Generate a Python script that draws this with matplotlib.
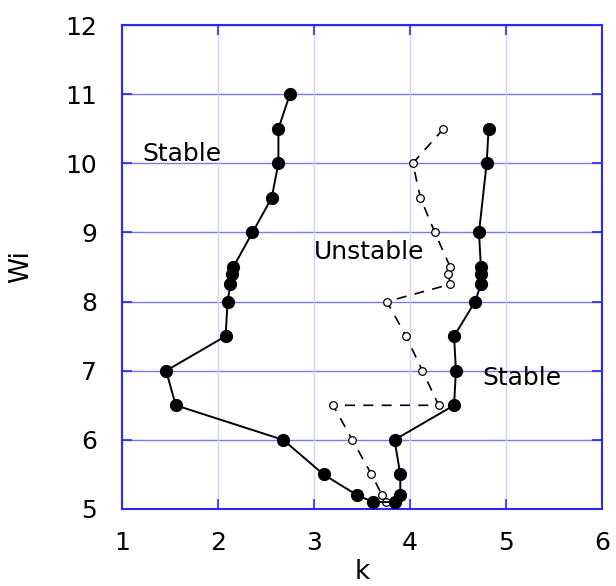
import matplotlib
matplotlib.use('Agg')
import matplotlib.pyplot as plt

# filled series (solid line)
k_stable = [2.75, 2.63, 2.63, 2.56, 2.36, 2.16, 2.15, 2.13, 2.10, 2.08, 1.46, 1.56, 2.68, 3.10, 3.45, 3.62,
            3.85, 3.90, 3.90, 3.84, 4.46, 4.48, 4.46, 4.68, 4.74, 4.74, 4.74, 4.72, 4.80, 4.82]
wi_stable = [11.0, 10.5, 10.0, 9.5, 9.0, 8.5, 8.4, 8.25, 8.0, 7.5, 7.0, 6.5, 6.0, 5.5, 5.2, 5.1,
             5.1, 5.2, 5.5, 6.0, 6.5, 7.0, 7.5, 8.0, 8.25, 8.4, 8.5, 9.0, 10.0, 10.5]

# open series (dashed line)
k_unstable = [4.35, 4.03, 4.11, 4.26, 4.42, 4.40, 4.42, 3.76, 3.96, 4.13, 4.30, 3.20, 3.40, 3.60, 3.71, 3.75]
wi_unstable = [10.5, 10.0, 9.5, 9.0, 8.5, 8.4, 8.25, 8.0, 7.5, 7.0, 6.5, 6.5, 6.0, 5.5, 5.2, 5.1]

xticks = [1, 2, 3, 4, 5, 6]
yticks = [5, 6, 7, 8, 9, 10, 11, 12]

spine_blue = '#2828ff'

fig = plt.figure(figsize=(6.16, 5.86), dpi=100)
ax = fig.add_axes([0.198, 0.1314, 0.779, 0.8259])

for y in yticks:
    ax.axhline(y, color='#7878f0', lw=1.0, zorder=0)
for x in xticks:
    ax.axvline(x, color='#d2d2ff', lw=1.0, zorder=0)

ax.plot(k_stable, wi_stable, '-', color='black', lw=1.4, marker='o', ms=8.5,
        mfc='black', mec='black', zorder=3)
ax.plot(k_unstable, wi_unstable, '--', color='black', lw=1.2, dashes=(6, 5), marker='o', ms=5.5,
        mfc='white', mec='black', mew=0.9, zorder=2)

ax.text(1.62, 10.13, 'Stable', fontsize=18, ha='center', va='center')
ax.text(3.58, 8.72, 'Unstable', fontsize=18, ha='center', va='center')
ax.text(5.17, 6.90, 'Stable', fontsize=18, ha='center', va='center')

ax.set_xlim(1, 6)
ax.set_ylim(5, 12)
ax.set_xticks(xticks)
ax.set_yticks(yticks)
ax.tick_params(direction='in', length=7, width=1.2, color=spine_blue, labelsize=18,
               top=True, right=True)
ax.tick_params(axis='x', pad=16)
ax.tick_params(axis='y', pad=18)
for s in ax.spines.values():
    s.set_color(spine_blue)
    s.set_linewidth(1.5)

ax.set_xlabel('k', fontsize=19, labelpad=3)
ax.set_ylabel('Wi', fontsize=19, labelpad=22)

fig.savefig('out.png', dpi=100)
